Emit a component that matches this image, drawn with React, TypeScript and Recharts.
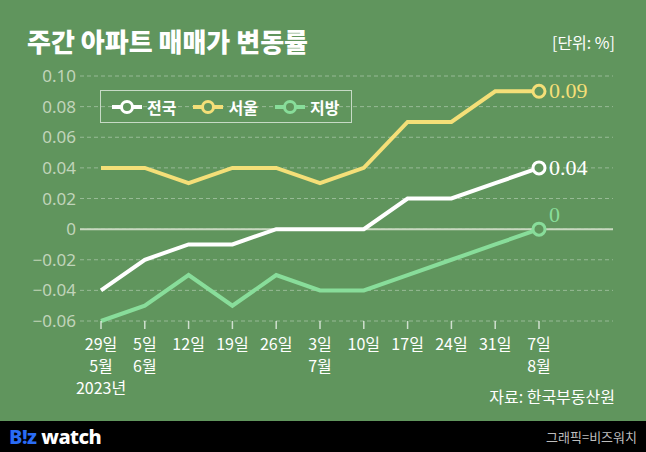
import { LineChart, Line, XAxis, YAxis, CartesianGrid, ReferenceLine } from 'recharts';

const days = ['29일', '5일', '12일', '19일', '26일', '3일', '10일', '17일', '24일', '31일', '7일'];
const months = ['5월', '6월', '', '', '', '7월', '', '', '', '', '8월'];
const years = ['2023년', '', '', '', '', '', '', '', '', '', ''];

const national = [-0.04, -0.02, -0.01, -0.01, 0, 0, 0, 0.02, 0.02, 0.03, 0.04];
const seoul = [0.04, 0.04, 0.03, 0.04, 0.04, 0.03, 0.04, 0.07, 0.07, 0.09, 0.09];
const regional = [-0.06, -0.05, -0.03, -0.05, -0.03, -0.04, -0.04, -0.03, -0.02, -0.01, 0];

const yTicks = [-0.06, -0.04, -0.02, 0, 0.02, 0.04, 0.06, 0.08, 0.1];

const BG = '#60955d';
const WHITE = '#ffffff';
const YELLOW = '#f4df78';
const GREEN = '#88dd9a';
const KR = '"Noto Sans CJK KR", "Noto Sans", sans-serif';

const series = [
  { key: 'seoul', name: '서울', color: YELLOW, endText: '0.09', above: false },
  { key: 'national', name: '전국', color: WHITE, endText: '0.04', above: false },
  { key: 'regional', name: '지방', color: GREEN, endText: '0', above: true },
];
const legendOrder = ['national', 'seoul', 'regional'];

const data = days.map((d, i) => ({
  idx: i,
  national: national[i],
  seoul: seoul[i],
  regional: regional[i],
}));

const fmtY = (v: number) => {
  if (v === 0) return '0';
  const s = Math.abs(v).toFixed(2);
  return v < 0 ? '\u2212' + s : s;
};

function XTick(props: any) {
  const { x, y, payload } = props;
  const i = payload.value as number;
  const lines = [days[i], months[i], years[i]].filter((t) => t);
  return (
    <g transform={`translate(${x},${y})`}>
      {lines.map((t, k) => (
        <text key={k} x={0} y={19 + k * 22} textAnchor="middle" fill="#ffffff" fontSize={16} fontFamily={KR}>
          {t}
        </text>
      ))}
    </g>
  );
}

function makeDot(color: string, endText: string, above: boolean) {
  return (p: any) => {
    const { cx, cy, index } = p;
    if (index !== days.length - 1) return <g key={`d-${index}`} />;
    return (
      <g key={`d-${index}`}>
        <circle cx={cx} cy={cy} r={6} fill={BG} stroke={color} strokeWidth={3} />
        <text
          x={cx + 10}
          y={above ? cy - 7 : cy + 7}
          fill={color}
          fontSize={22}
          fontFamily='"Liberation Serif", serif'
        >
          {endText}
        </text>
      </g>
    );
  };
}

function LegendBox() {
  return (
    <div
      style={{
        position: 'absolute',
        left: 100,
        top: 90,
        display: 'flex',
        alignItems: 'center',
        border: '1.5px solid rgba(255,255,255,0.65)',
        height: 33,
        width: 252,
        boxSizing: 'border-box',
        paddingLeft: 11,
        fontFamily: KR,
        fontSize: 16,
        fontWeight: 700,
        color: '#ffffff',
        whiteSpace: 'nowrap',
      }}
    >
      {legendOrder.map((k) => {
        const s = series.find((x) => x.key === k)!;
        return (
          <div key={s.key} style={{ display: 'flex', alignItems: 'center', marginRight: 17 }}>
            <svg width={30} height={16} style={{ marginRight: 5 }}>
              <line x1={0} y1={8} x2={30} y2={8} stroke={s.color} strokeWidth={4} />
              <circle cx={15} cy={8} r={5.5} fill={BG} stroke={s.color} strokeWidth={3} />
            </svg>
            <span>{s.name}</span>
          </div>
        );
      })}
    </div>
  );
}

export default function App() {
  return (
    <div style={{ position: 'fixed', left: 0, top: 0, width: 646, height: 452, background: BG, overflow: 'hidden' }}>
      <div
        style={{
          position: 'absolute',
          left: 27,
          top: 22,
          fontFamily: KR,
          fontSize: 26,
          fontWeight: 900,
          letterSpacing: 0,
          color: '#ffffff',
          whiteSpace: 'nowrap',
        }}
      >
        주간 아파트 매매가 변동률
      </div>
      <div
        style={{
          position: 'absolute',
          right: 31,
          top: 30,
          fontFamily: KR,
          fontSize: 16,
          color: '#ffffff',
          whiteSpace: 'nowrap',
        }}
      >
        [단위: %]
      </div>
      <div style={{ position: 'absolute', left: 0, top: 0 }}>
        <LineChart width={646} height={421} data={data} margin={{ top: 76, right: 33, bottom: 0, left: 0 }}>
          <CartesianGrid horizontal vertical={false} stroke="rgba(255,255,255,0.35)" strokeDasharray="4 3" />
          <ReferenceLine y={0} stroke="#c8d8c0" strokeWidth={2} />
          <XAxis
            dataKey="idx"
            type="category"
            height={100}
            axisLine={false}
            tickLine={{ stroke: 'rgba(255,255,255,0.7)', strokeWidth: 1.5 }}
            tickSize={8}
            tickMargin={2}
            padding={{ left: 21, right: 74 }}
            interval={0}
            tick={<XTick />}
          />
          <YAxis
            width={80}
            domain={[-0.06, 0.1]}
            ticks={yTicks}
            axisLine={false}
            tickLine={false}
            tickSize={2}
            tickMargin={2}
            tickFormatter={fmtY}
            tick={{ fill: '#c0d4ba', fontSize: 17, fontFamily: '"Noto Sans", sans-serif' }}
            interval={0}
          />
          {series.map((s) => (
            <Line
              key={s.key}
              dataKey={s.key}
              name={s.name}
              type="linear"
              stroke={s.color}
              strokeWidth={4}
              dot={makeDot(s.color, s.endText, s.above)}
              activeDot={false}
              isAnimationActive={false}
            />
          ))}
        </LineChart>
      </div>
      <LegendBox />
      <div
        style={{
          position: 'absolute',
          right: 31,
          top: 384,
          fontFamily: KR,
          fontSize: 16,
          color: '#ffffff',
          whiteSpace: 'nowrap',
        }}
      >
        자료: 한국부동산원
      </div>
      <div style={{ position: 'absolute', left: 0, top: 421, width: 646, height: 31, background: '#000000' }}>
        <div
          style={{
            position: 'absolute',
            left: 9,
            top: 2,
            fontFamily: '"Noto Sans", sans-serif',
            fontSize: 20,
            fontWeight: 800,
            letterSpacing: -0.5,
            whiteSpace: 'nowrap',
          }}
        >
          <span style={{ color: '#2a6cf5' }}>B!z</span>
          <span style={{ color: '#ffffff' }}> watch</span>
        </div>
        <div
          style={{
            position: 'absolute',
            right: 9,
            top: 6,
            fontFamily: KR,
            fontSize: 13,
            color: '#bdbdbd',
            whiteSpace: 'nowrap',
          }}
        >
          그래픽=비즈워치
        </div>
      </div>
    </div>
  );
}
